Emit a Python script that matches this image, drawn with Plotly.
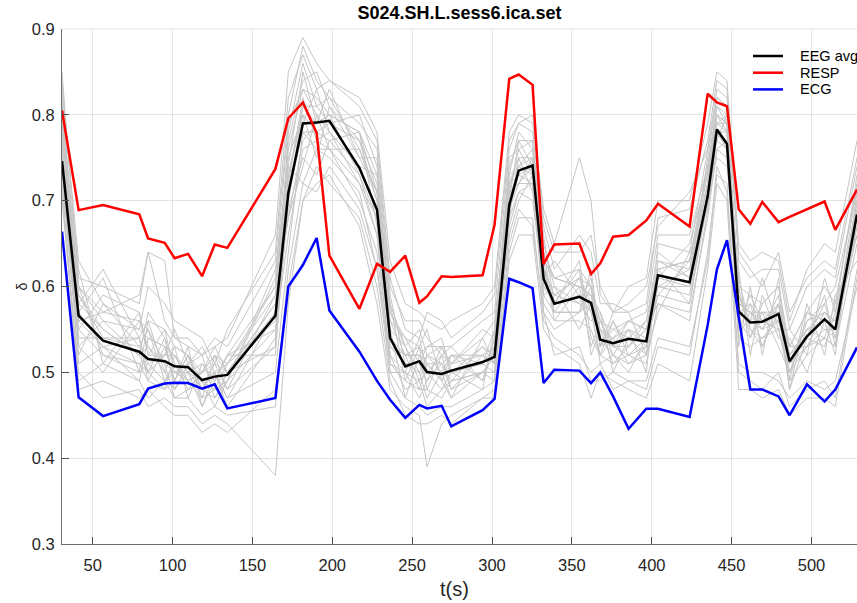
import plotly.graph_objects as go

# time points (s)
t_s = [30.8, 41.2, 56.5, 79.2, 84.7, 95.1, 101.3, 109.7, 118.5, 126.4, 134.3,
       164.4, 172.5, 181.6, 190.2, 198.2, 217.0, 228.0, 236.2, 245.7, 254.5,
       259.3, 268.5, 274.5, 294.1, 301.6, 310.8, 316.7, 325.4, 332.3, 339.0,
       354.7, 362.0, 367.8, 375.8, 385.5, 396.6, 403.9, 423.7, 435.0, 440.8,
       447.1, 454.4, 461.7, 469.2, 479.4, 486.3, 497.2, 508.2, 514.9, 528.5]

eeg_avg = [0.746, 0.566, 0.537, 0.524, 0.5155, 0.513, 0.507, 0.506, 0.491, 0.495, 0.497,
           0.566, 0.709, 0.790, 0.791, 0.793, 0.738, 0.6895, 0.540, 0.507, 0.513,
           0.5004, 0.498, 0.502, 0.512, 0.518, 0.695, 0.735, 0.741, 0.609, 0.580,
           0.588, 0.581, 0.538, 0.534, 0.539, 0.536, 0.613, 0.605, 0.705, 0.783,
           0.766, 0.571, 0.558, 0.559, 0.568, 0.513, 0.542, 0.562, 0.550, 0.684]

resp = [0.805, 0.689, 0.695, 0.684, 0.656, 0.651, 0.633, 0.638, 0.612, 0.649, 0.645,
        0.737, 0.796, 0.8145, 0.779, 0.636, 0.574, 0.6265, 0.617, 0.636, 0.581,
        0.5885, 0.612, 0.611, 0.613, 0.672, 0.842, 0.847, 0.835, 0.626, 0.649,
        0.650, 0.6145, 0.627, 0.658, 0.660, 0.677, 0.6965, 0.670, 0.8246, 0.8145,
        0.810, 0.690, 0.673, 0.6985, 0.675, 0.681, 0.690, 0.699, 0.666, 0.713]

ecg = [0.664, 0.471, 0.449, 0.463, 0.481, 0.487, 0.488, 0.4875, 0.481, 0.486, 0.458,
       0.470, 0.600, 0.625, 0.6565, 0.572, 0.524, 0.490, 0.468, 0.447, 0.462,
       0.458, 0.461, 0.437, 0.456, 0.469, 0.609, 0.605, 0.598, 0.4875, 0.503,
       0.502, 0.4875, 0.500, 0.472, 0.4343, 0.4576, 0.4576, 0.448, 0.555, 0.620,
       0.654, 0.565, 0.480, 0.480, 0.472, 0.450, 0.486, 0.466, 0.480, 0.529]

# individual EEG channels (hundredths of delta)
ch_a = [84,61,60,58,64,63,54,54,52,53,54,66,85,89,86,84,82,78,63,58,57,56,55,56,58,60,78,80,79,69,65,75,70,59,57,60,61,70,70,79,85,84,65,63,64,63,56,62,65,64,77]
ch_b = [70,50,47,48,46,47,46,46,44,45,44,38,58,70,72,73,67,58,48,46,45,39,44,45,47,48,63,66,66,55,53,51,47,50,49,48,47,51,49,62,72,70,48,48,47,48,45,47,47,46,61]
ch_c = [78,60,56,55,54,53,52,50,51,49,52,60,76,83,82,80,78,73,58,53,55,52,53,51,55,54,74,77,77,64,61,62,60,56,55,56,57,66,66,74,81,80,60,59,58,60,53,57,60,58,72]
ch_d = [72,55,52,50,51,49,50,49,47,48,49,55,66,76,77,78,72,66,51,49,48,48,47,49,50,50,67,71,72,58,56,56,55,52,51,52,51,58,57,68,76,75,54,53,54,55,49,52,54,53,65]
ch_e = [80,58,62,54,50,52,53,52,50,51,48,53,70,81,79,83,75,71,56,52,53,51,49,52,49,53,71,76,73,62,57,61,57,55,53,53,55,62,63,72,80,78,58,57,55,56,52,55,57,56,70]
ch_f = [74,53,50,56,53,50,48,51,48,47,50,58,68,74,80,76,70,64,50,50,47,49,51,48,52,51,69,72,75,59,60,55,58,51,52,51,53,60,59,70,77,76,56,54,57,53,50,53,55,55,66]
ch_g = [76,59,55,52,57,54,51,49,50,52,51,56,73,80,75,81,77,70,55,47,52,50,48,50,51,53,72,73,74,63,56,60,59,53,54,55,50,63,62,73,79,79,55,58,56,58,51,56,58,54,69]
ch_h = [82,56,53,51,49,48,49,53,46,50,47,50,64,78,78,77,73,68,53,51,50,47,50,47,50,49,68,75,71,60,59,58,56,57,50,54,52,57,64,69,78,77,59,55,53,57,48,54,53,57,67]
ch_i = [73,52,58,53,55,51,47,48,49,46,49,62,74,72,76,75,71,62,52,48,49,46,48,49,53,52,66,70,73,57,55,57,62,54,52,50,54,59,58,71,75,74,62,52,59,54,54,50,56,52,71]
ch_j = [79,62,51,57,52,55,50,51,53,50,46,54,78,86,81,79,80,74,57,54,51,53,54,50,48,55,73,78,76,66,58,63,54,52,56,53,56,64,61,75,82,81,53,60,52,61,49,58,52,59,63]
ch_k = [85,60,57,59,64,56,54,53,52,54,53,63,80,88,84,82,79,76,60,56,56,54,52,53,56,57,76,79,78,67,62,66,64,58,58,57,58,68,69,77,84,83,63,61,62,62,55,60,62,61,74]
ch_l = [71,48,49,47,48,46,45,45,43,44,43,48,60,70,74,72,68,60,49,45,44,44,45,44,47,47,64,68,68,56,54,52,50,51,48,49,48,53,52,64,73,72,50,49,48,50,46,48,49,47,62]
ch_m = [77,54,54,53,51,52,52,50,48,51,50,57,70,79,83,78,74,69,54,52,52,51,51,52,52,51,70,74,73,61,58,59,59,55,54,56,55,61,60,71,79,78,57,56,57,57,52,55,56,56,68]
ch_n = [75,57,61,50,56,50,53,47,51,49,52,52,72,82,77,76,76,71,58,49,53,55,49,51,54,56,71,72,74,63,61,60,53,56,53,52,53,59,63,74,77,80,54,57,55,59,51,54,59,53,70]
ch_o = [74,51,53,54,49,53,49,52,47,52,48,59,68,77,79,80,73,66,51,50,49,50,52,48,50,52,69,73,72,59,57,57,60,53,55,54,56,62,58,70,78,76,61,55,54,56,53,53,54,58,66]
ch_p = [81,58,55,52,53,51,50,50,49,48,51,60,75,80,78,79,77,72,55,53,50,52,50,50,51,50,72,75,75,62,59,61,58,54,53,55,54,60,62,72,80,79,58,57,56,57,50,56,57,55,69]
ch_q = [83,63,58,55,60,58,56,55,54,51,55,64,82,87,83,84,81,77,61,55,54,57,56,54,57,59,77,79,80,68,64,64,66,60,57,58,60,67,71,76,83,82,64,62,60,64,57,61,63,62,75]
ch_r = [72,49,51,49,47,49,47,47,45,46,45,46,62,72,71,74,69,62,50,47,46,45,46,46,48,49,65,69,67,57,52,53,49,49,50,49,49,54,53,63,74,71,51,50,50,49,47,49,48,49,60]
ch_s = [79,56,57,56,55,49,51,48,50,53,50,58,77,84,85,81,75,75,59,51,51,49,53,53,49,54,75,76,77,65,60,58,61,53,57,57,52,65,64,76,82,81,59,56,61,55,55,52,61,57,73]
ch_t = [76,60,52,51,50,54,48,50,46,49,52,55,69,75,73,77,78,67,53,52,48,51,49,47,54,51,68,71,70,60,58,62,52,55,51,53,55,58,56,69,76,77,57,58,53,58,48,57,55,54,67]
ch_u = [80,55,59,57,52,52,55,51,52,47,49,61,79,83,80,78,74,73,56,54,53,48,52,51,52,53,70,77,74,61,63,59,57,52,54,51,52,61,65,73,81,79,60,54,58,60,52,54,58,60,71]
ch_v = [78,57,53,49,54,53,49,52,48,50,47,57,73,81,81,82,76,70,52,50,54,50,50,52,51,55,73,74,76,64,57,57,58,56,52,55,53,63,61,72,79,80,56,59,56,55,50,55,54,53,70]
ch_w = [75,53,56,52,50,48,52,49,50,52,50,53,71,78,76,76,72,68,57,53,49,52,51,49,50,52,71,72,72,62,59,61,60,53,56,52,54,60,60,70,78,78,58,57,57,56,51,53,57,56,67]
ch_x = [82,59,54,54,56,55,53,52,49,50,51,59,74,85,79,80,78,71,54,52,52,53,53,50,53,51,72,74,75,63,61,60,59,57,53,56,55,62,63,74,80,79,57,56,55,58,53,57,56,55,72]

channels = [ch_a, ch_b, ch_c, ch_d, ch_e, ch_f, ch_g, ch_h, ch_i, ch_j, ch_k, ch_l,
            ch_m, ch_n, ch_o, ch_p, ch_q, ch_r, ch_s, ch_t, ch_u, ch_v, ch_w, ch_x]

legend_names = ["EEG avg", "RESP", "ECG"]
legend_colors = ["#000000", "#ff0000", "#0000ff"]

fig = go.Figure()
for ch in channels:
    fig.add_trace(go.Scatter(x=t_s, y=[v / 100 for v in ch], mode="lines",
                             line=dict(color="#c6c6c6", width=1),
                             showlegend=False, hoverinfo="skip"))

for series, name, color in zip([eeg_avg, resp, ecg], legend_names, legend_colors):
    fig.add_trace(go.Scatter(x=t_s, y=series, mode="lines", name=name,
                             line=dict(color=color, width=2.5), showlegend=False))

axis_font = dict(family="Liberation Sans, Arial, sans-serif", size=16.5, color="#262626")

# plot-area geometry in pixels (for placing the hand-built legend)
PL, PT, PW, PH = 62, 29, 795, 515


def px_x(x):
    return (x - PL) / PW


def px_y(y):
    return 1 - (y - PT) / PH


shapes = [dict(type="line", xref="paper", yref="paper", x0=0, x1=1, y0=1, y1=1,
               line=dict(color="#e3e3e3", width=1))]
annotations = [
    dict(text="t(s)", x=0.494, y=-0.087, xref="paper", yref="paper",
         xanchor="center", yanchor="middle", showarrow=False,
         font=dict(size=20, color="#262626")),
    dict(text="δ", x=px_x(21), y=0.5, xref="paper", yref="paper",
         xanchor="center", yanchor="middle", showarrow=False, textangle=-90,
         font=dict(size=14, color="#262626")),
]
for i, (name, color) in enumerate(zip(legend_names, legend_colors)):
    yy = px_y(56 + 16.7 * i)
    shapes.append(dict(type="line", xref="paper", yref="paper",
                       x0=px_x(753), x1=px_x(783), y0=yy, y1=yy,
                       line=dict(color=color, width=2.5)))
    annotations.append(dict(text=name, x=px_x(798), y=yy, xref="paper", yref="paper",
                            xanchor="left", yanchor="middle", showarrow=False,
                            font=dict(size=14.5, color="#000000")))

fig.update_layout(
    width=857, height=603,
    margin=dict(l=PL, r=0, t=PT, b=603 - PT - PH),
    paper_bgcolor="white", plot_bgcolor="white",
    showlegend=False,
    font=dict(family="Liberation Sans, Arial, sans-serif", color="#262626"),
    title=dict(text="<b>S024.SH.L.sess6.ica.set</b>", x=0.5, xref="paper",
               xanchor="center", y=1 - 13 / 603, yref="container", yanchor="middle",
               font=dict(size=18, color="#000000")),
    xaxis=dict(range=[30.8, 528.5], tickvals=[50, 100, 150, 200, 250, 300, 350, 400, 450, 500],
               ticks="inside", ticklen=7, tickcolor="#4d4d4d", showline=True,
               linecolor="#6e6e6e", linewidth=1, showgrid=True, gridcolor="#e3e3e3",
               zeroline=False, tickfont=axis_font, ticklabelstandoff=6),
    yaxis=dict(range=[0.3, 0.9], tickvals=[0.3, 0.4, 0.5, 0.6, 0.7, 0.8, 0.9],
               ticktext=["0.3", "0.4", "0.5", "0.6", "0.7", "0.8", "0.9"],
               ticks="inside", ticklen=7, tickcolor="#4d4d4d", showline=True,
               linecolor="#6e6e6e", linewidth=1, showgrid=True, gridcolor="#e3e3e3",
               zeroline=False, tickfont=axis_font, ticklabelstandoff=3),
    shapes=shapes,
    annotations=annotations,
)

fig.write_html("out.html")
